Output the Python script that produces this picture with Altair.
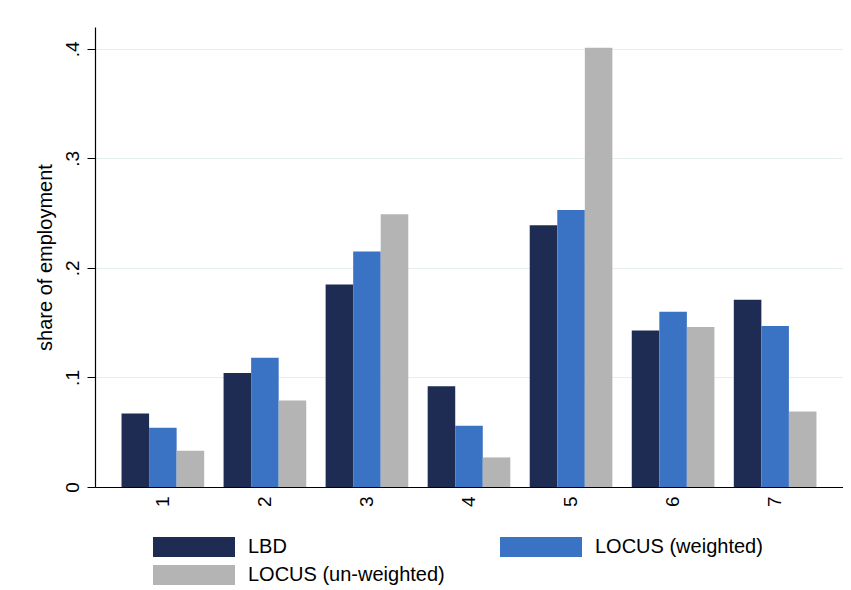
import altair as alt
import pandas as pd

groups = ["1", "2", "3", "4", "5", "6", "7"]
series = ["LBD", "LOCUS (weighted)", "LOCUS (un-weighted)"]
lbd = [0.067, 0.104, 0.185, 0.092, 0.239, 0.143, 0.171]
locus_w = [0.054, 0.118, 0.215, 0.056, 0.253, 0.160, 0.147]
locus_uw = [0.033, 0.079, 0.249, 0.027, 0.401, 0.146, 0.069]
colors = ["#1e2c54", "#3b73c4", "#b4b4b4"]

rows = []
for name, vals in zip(series, [lbd, locus_w, locus_uw]):
    for g, v in zip(groups, vals):
        rows.append({"group": g, "series": name, "share": v})
df = pd.DataFrame(rows)

font = "Liberation Sans"

chart = alt.Chart(df).mark_bar().encode(
    x=alt.X("group:N", sort=groups,
            scale=alt.Scale(paddingInner=0.19, paddingOuter=0.26),
            axis=alt.Axis(title=None, labelAngle=270, labelAlign="right",
                          labelBaseline="middle", labelPadding=9, ticks=False,
                          labelFontSize=19, labelFont=font, labelColor="black",
                          domainColor="black", domainWidth=1.2)),
    xOffset=alt.XOffset("series:N", sort=series, scale=alt.Scale(paddingInner=0, paddingOuter=0)),
    y=alt.Y("share:Q", scale=alt.Scale(domain=[0, 0.42], nice=False),
            axis=alt.Axis(title="share of employment", values=[0, 0.1, 0.2, 0.3, 0.4],
                          labelExpr="datum.value == 0 ? '0' : replace(format(datum.value, '.1f'), '0.', '.')",
                          labelAngle=270, labelAlign="center", labelBaseline="bottom",
                          labelPadding=5, tickSize=8, tickColor="black",
                          labelFontSize=19, labelFont=font, labelColor="black",
                          titleFontSize=20, titleFont=font, titleFontWeight="normal",
                          titleColor="black", titlePadding=8,
                          domainColor="black", domainWidth=1.2,
                          gridColor="#e6eef0", gridWidth=1)),
    color=alt.Color("series:N",
                    scale=alt.Scale(domain=series, range=colors),
                    legend=alt.Legend(title=None, orient="none", direction="horizontal",
                                      legendX=58, legendY=508,
                                      columns=2, columnPadding=55, rowPadding=4,
                                      symbolType="M-1,-0.244H1V0.244H-1Z", symbolSize=6724,
                                      symbolStrokeWidth=0, symbolOpacity=1, clipHeight=24,
                                      labelOffset=13, labelFontSize=20, labelFont=font,
                                      labelLimit=400, labelColor="black", padding=0)),
).properties(
    width=748,
    height=460,
    autosize=alt.AutoSizeParams(type="none"),
    padding={"left": 87, "top": 19, "right": 0, "bottom": 100},
).configure_view(stroke=None)

chart.save("out.html", embed_options={"renderer": "svg", "actions": False})
